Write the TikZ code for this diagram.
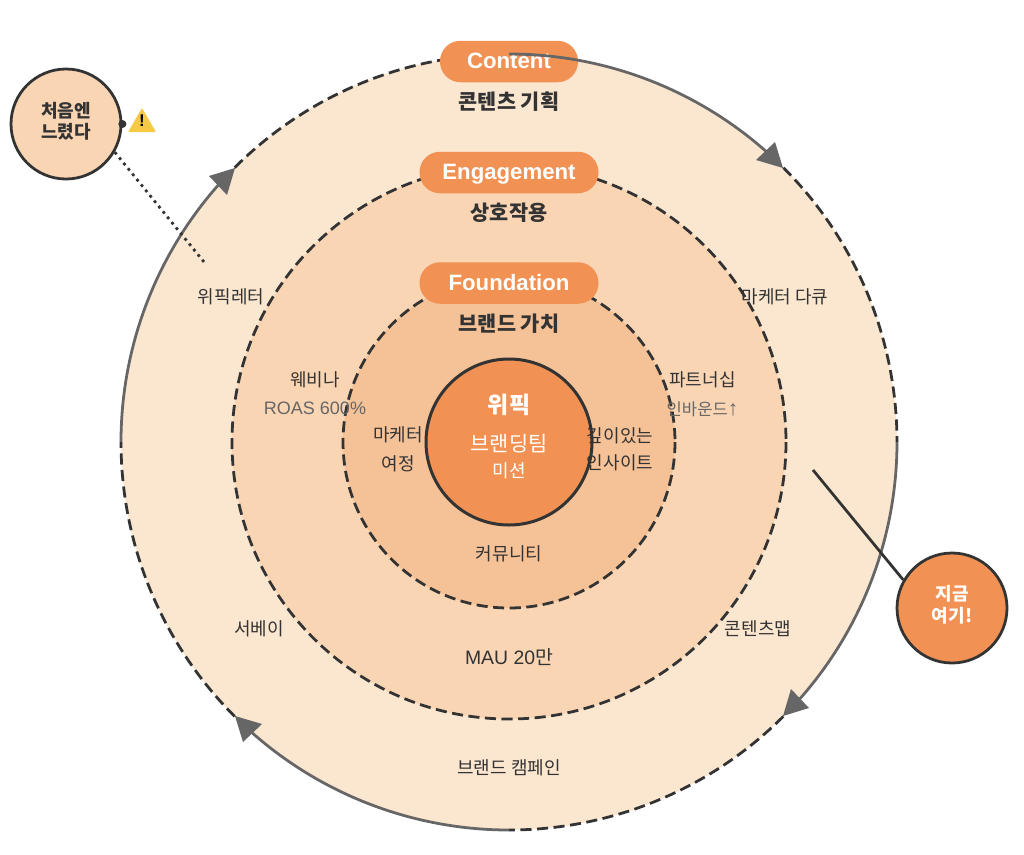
\documentclass[tikz,border=0pt]{standalone}
\usepackage{fontspec}
\setmainfont{Noto Sans CJK KR}
\newfontfamily\lat{Liberation Sans}
\definecolor{ringa}{HTML}{FBE6CF}
\definecolor{ringb}{HTML}{F9D5B4}
\definecolor{ringc}{HTML}{F5C196}
\definecolor{hot}{HTML}{F19254}
\definecolor{ink}{HTML}{333333}
\definecolor{mute}{HTML}{666666}
\definecolor{warn}{HTML}{F5CB45}
\tikzset{
  x=1pt,y=-1pt,
  ringline/.style={draw=ink,line width=2.77pt,dash pattern=on 11.1pt off 5.5pt},
  flow/.style={draw=mute,line width=2.77pt},
  flowtip/.style={fill=mute},
  pill/.style={fill=hot,rounded corners=20.5pt,minimum height=41.5pt,inner sep=0pt,text=white,text height=14pt,text depth=0pt,font=\lat\bfseries\fontsize{22.2}{26}\selectfont},
  head/.style={text=ink,inner sep=0pt,font=\bfseries\fontsize{20.8}{24}\selectfont},
  lab/.style={text=ink,inner sep=0pt,font=\fontsize{18}{22}\selectfont},
  sublab/.style={text=mute,inner sep=0pt,font=\fontsize{18}{22}\selectfont},
  calltext/.style={inner sep=0pt,font=\bfseries\fontsize{18}{22}\selectfont},
  disc/.style={circle,draw=ink,line width=2.77pt,inner sep=0pt,minimum size=110pt}
}
\begin{document}
\begin{tikzpicture}
\useasboundingbox (0,0) rectangle (1024,854);
\coordinate (c) at (509,442);
% rings
\fill[ringa] (c) circle[radius=388];
\draw[ringline] (c) ++(-45:388) arc[start angle=-45,end angle=0,radius=388];
\draw[ringline] (c) ++(45:388) arc[start angle=45,end angle=90,radius=388];
\draw[ringline] (c) ++(135:388) arc[start angle=135,end angle=180,radius=388];
\draw[ringline] (c) ++(225:388) arc[start angle=225,end angle=270,radius=388];
\fill[ringb] (c) circle[radius=277];
\draw[ringline] (786,442) arc[start angle=0,end angle=360,radius=277];
\fill[ringc] (c) circle[radius=166];
\draw[ringline] (675,442) arc[start angle=0,end angle=360,radius=166];
% core
\node[disc,fill=hot,minimum size=166pt,line width=3pt] (core) at (c) {};
\node[inner sep=0pt,text=white,font=\bfseries\fontsize{23}{26}\selectfont] (t1) at (509,405) {위픽};
\node[inner sep=0pt,text=white,font=\fontsize{20.8}{24}\selectfont] (t2) at (509,444) {브랜딩팀};
\node[inner sep=0pt,text=white,font=\fontsize{18}{22}\selectfont] (t3) at (509,471) {미션};
% pills
\node[pill,minimum width=138pt] (pc) at (509,61.5) {Content};
\node[pill,minimum width=179pt] (pe) at (509,172.5) {Engagement};
\node[pill,minimum width=179pt] (pf) at (509,283) {Foundation};
\node[head] (h1) at (509,102) {콘텐츠 기획};
\node[head] (h2) at (509,213) {상호작용};
\node[head] (h3) at (509,324) {브랜드 가치};
% labels
\node[lab] (a1) at (398,435) {마케터};
\node[lab] (a2) at (398,464) {여정};
\node[lab] (a3) at (620,436) {깊이있는};
\node[lab] (a4) at (620,463) {인사이트};
\node[lab] (a5) at (509,554) {커뮤니티};
\node[lab] (b1) at (315,380) {웨비나};
\node[sublab,font=\lat\fontsize{18}{22}\selectfont] (b2) at (315,408) {ROAS 600\%};
\node[lab] (b3) at (702.5,380) {파트너십};
\node[sublab,font=\fontsize{16.6}{20}\selectfont] (b4) at (702.5,409) {인바운드{\lat\fontsize{21}{21}\selectfont ↑}};
\node[lab] (d1) at (231,297) {위픽레터};
\node[lab] (d2) at (785,297) {마케터 다큐};
\node[lab] (d3) at (259,629) {서베이};
\node[lab] (d4) at (758,629) {콘텐츠맵};
\node[lab,font=\fontsize{19.4}{22}\selectfont] (d5) at (509,657) {{\lat MAU 20}만};
\node[lab] (d6) at (509,768) {브랜드 캠페인};
% flow arcs
\draw[flow] (509,54) arc[start angle=-90,end angle=-47,radius=388];
\fill[flowtip] (783,168) -- (775,142) -- (756,160) -- cycle;
\draw[flow] (897,442) arc[start angle=0,end angle=43,radius=388];
\fill[flowtip] (783,716) -- (809,708) -- (791,689) -- cycle;
\draw[flow] (509,830) arc[start angle=90,end angle=133,radius=388];
\fill[flowtip] (235,716) -- (243,742) -- (262,724) -- cycle;
\draw[flow] (121,442) arc[start angle=180,end angle=223,radius=388];
\fill[flowtip] (235,168) -- (209,176) -- (227,195) -- cycle;
% callouts
\coordinate (dotend) at (204,262);
\coordinate (hereend) at (813,470);
\node[disc,fill=ringb] (slow) at (66,124) {};
\node[calltext,text=ink] (s1) at (66,111) {처음엔};
\node[calltext,text=ink] (s2) at (66,132) {느렸다};
\fill[ink] (slow.east) circle[radius=4];
\draw[ink,line width=2.77pt,dash pattern=on 2.77pt off 4.16pt] (slow.-30) -- (dotend);
\node[disc,fill=hot] (here) at (952,608) {};
\node[calltext,text=white] (n1) at (952,594) {지금};
\node[calltext,text=white] (n2) at (952,616) {여기!};
\draw[ink,line width=2.77pt] (hereend) -- (here.150);
% warning sign
\fill[warn,rounded corners=1pt] (142,108) -- (156,132) -- (128,132) -- cycle;
\node[inner sep=0pt,text=black,font=\lat\bfseries\fontsize{17}{20}\selectfont] (w) at (142,121) {!};
\end{tikzpicture}
\end{document}
